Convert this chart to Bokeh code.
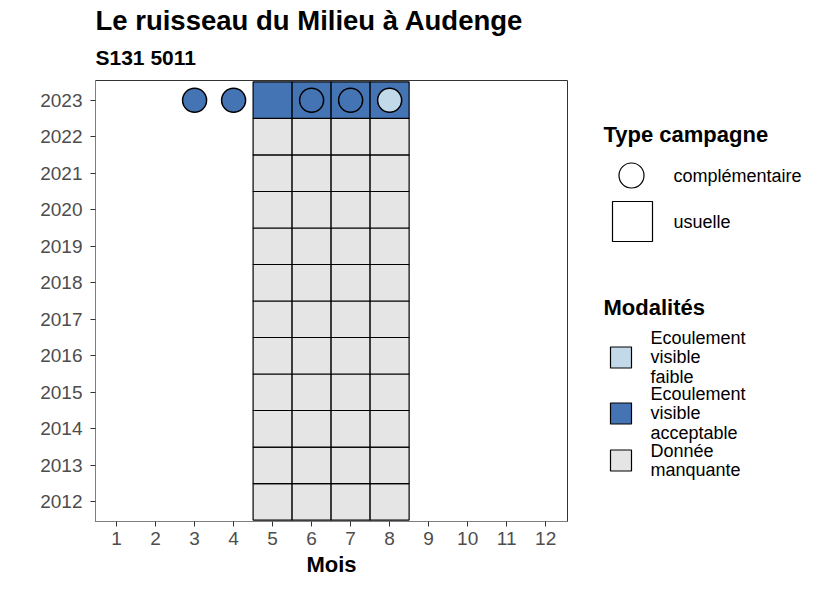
from bokeh.plotting import figure
from bokeh.layouts import row
from bokeh.models import ColumnDataSource, Title, FixedTicker, Range1d
from bokeh.core.properties import value
from bokeh.embed import file_html
from bokeh.resources import INLINE

# ---------------- data ----------------
title_text = "Le ruisseau du Milieu à Audenge"
subtitle_text = "S131 5011"
months = [1, 2, 3, 4, 5, 6, 7, 8, 9, 10, 11, 12]
years = [2012, 2013, 2014, 2015, 2016, 2017, 2018, 2019, 2020, 2021, 2022, 2023]

# usual campaigns (tiles): months 5-8 each year, one modality per year
usual_months = [5, 6, 7, 8]
usual_modality_by_year = {
    2012: "Donnée manquante", 2013: "Donnée manquante", 2014: "Donnée manquante",
    2015: "Donnée manquante", 2016: "Donnée manquante", 2017: "Donnée manquante",
    2018: "Donnée manquante", 2019: "Donnée manquante", 2020: "Donnée manquante",
    2021: "Donnée manquante", 2022: "Donnée manquante",
    2023: "Ecoulement visible acceptable",
}

# complementary campaigns (circles)
comp_months = [3, 4, 6, 7, 8]
comp_years = [2023, 2023, 2023, 2023, 2023]
comp_modality = ["Ecoulement visible acceptable", "Ecoulement visible acceptable",
                 "Ecoulement visible acceptable", "Ecoulement visible acceptable",
                 "Ecoulement visible faible"]

campaign_title = "Type campagne"
campaign_labels = ["complémentaire", "usuelle"]
modality_title = "Modalités"
modalities = ["Ecoulement visible faible", "Ecoulement visible acceptable", "Donnée manquante"]
modality_labels = ["Ecoulement\nvisible\nfaible", "Ecoulement\nvisible\nacceptable",
                   "Donnée\nmanquante"]

# ---------------- styles ----------------
palette = {
    "Ecoulement visible faible": "#c2d9ea",
    "Ecoulement visible acceptable": "#4574b4",
    "Donnée manquante": "#e5e5e5",
}
FONT = "Liberation Sans"
MAIN_W = 575
H = 590
FRAME_TOP, FRAME_BOTTOM = 80, 521

tile_x, tile_y, tile_c = [], [], []
for yv in years:
    for m in usual_months:
        tile_x.append(m)
        tile_y.append(yv)
        tile_c.append(palette[usual_modality_by_year[yv]])
tiles = ColumnDataSource(dict(x=tile_x, y=tile_y, c=tile_c))
comps = ColumnDataSource(dict(x=comp_months, y=comp_years,
                              c=[palette[m] for m in comp_modality]))

p = figure(width=MAIN_W, height=H, output_backend="svg", toolbar_location=None,
           title=None,
           x_range=Range1d(0.46, 12.56), y_range=Range1d(2011.46, 2023.54),
           min_border_left=95, min_border_right=MAIN_W - 567, min_border_top=FRAME_TOP,
           min_border_bottom=H - FRAME_BOTTOM)
p.background_fill_color = "white"
p.border_fill_color = "white"
p.grid.visible = False
p.outline_line_color = "#333333"
p.outline_line_width = 1

p.rect(x="x", y="y", width=1, height=1, source=tiles, fill_color="c",
       line_color="black", line_width=1.2)
p.scatter(x="x", y="y", source=comps, marker="circle", size=24, fill_color="c",
          line_color="black", line_width=1.5)

# axes
p.xaxis.ticker = FixedTicker(ticks=months)
p.yaxis.ticker = FixedTicker(ticks=years)
for ax in (p.xaxis[0], p.yaxis[0]):
    ax.axis_line_color = "#7f7f7f"
    ax.major_tick_line_color = "#333333"
    ax.major_tick_out = 5
    ax.major_tick_in = 0
    ax.minor_tick_line_color = None
    ax.major_label_text_font = FONT
    ax.major_label_text_font_size = "19px"
    ax.major_label_text_color = "#4d4d4d"
p.xaxis.major_label_standoff = 5
p.yaxis.major_label_standoff = 8
p.xaxis.axis_label = "Mois"
p.xaxis.axis_label_text_font = FONT
p.xaxis.axis_label_text_font_size = "22px"
p.xaxis.axis_label_text_font_style = "bold"
p.xaxis.axis_label_text_color = "black"
p.xaxis.axis_label_standoff = 4

# titles (first added = closest to the frame)
p.add_layout(Title(text=subtitle_text, text_font=FONT, text_font_size="21px",
                   text_font_style="bold", text_color="black", align="left",
                   offset=0, standoff=24), "above")
p.add_layout(Title(text=title_text, text_font=FONT, text_font_size="27.5px",
                   text_font_style="bold", text_color="black", align="left",
                   offset=0, standoff=-9), "above")

# ---------------- legend panel ----------------
# The row aligns this figure's frame with the main frame (y 80..521), so its
# ranges are set so that data units equal canvas pixels (y downwards).
LW = 826 - MAIN_W
lf = figure(width=LW, height=H, output_backend="svg", toolbar_location=None,
            title=None, x_range=Range1d(MAIN_W, 826),
            y_range=Range1d(FRAME_BOTTOM, FRAME_TOP),
            x_axis_location=None, y_axis_location=None, min_border=0)
lf.grid.visible = False
lf.outline_line_color = None
lf.background_fill_color = "white"
lf.border_fill_color = "white"

# legend layout (screen pixels)
title_x = 603
camp_title_y = 134
camp_key_x = [631, 632]
camp_key_y = [175, 221]
camp_label_x = 673
mod_title_y = 307
mod_key_x = 620.5
mod_key_y = [357, 413, 460]
mod_label_x = 650

lf.text(x=[title_x, title_x], y=[camp_title_y, mod_title_y],
        text=[campaign_title, modality_title], text_font=value(FONT),
        text_font_size="22px", text_font_style="bold", text_color="black",
        text_baseline="middle", text_align="left")

lf.scatter(x=[camp_key_x[0]], y=[camp_key_y[0]], marker="circle", size=25,
           fill_color="white", line_color="black", line_width=1.2)
lf.scatter(x=[camp_key_x[1]], y=[camp_key_y[1]], marker="square", size=40,
           fill_color="white", line_color="black", line_width=1.2)
lf.text(x=[camp_label_x, camp_label_x], y=camp_key_y, text=campaign_labels,
        text_font=value(FONT), text_font_size="18px", text_color="black",
        text_baseline="middle", text_align="left")

lf.scatter(x=[mod_key_x] * len(modalities), y=mod_key_y, marker="square", size=21,
           fill_color=[palette[m] for m in modalities], line_color="black",
           line_width=1.2)
lf.text(x=[mod_label_x] * len(modalities), y=mod_key_y, text=modality_labels,
        text_font=value(FONT), text_font_size="18px", text_color="black",
        text_baseline="middle", text_align="left", text_line_height=0.97)

layout = row(p, lf)
open("out.html", "w").write(file_html(layout, INLINE))
